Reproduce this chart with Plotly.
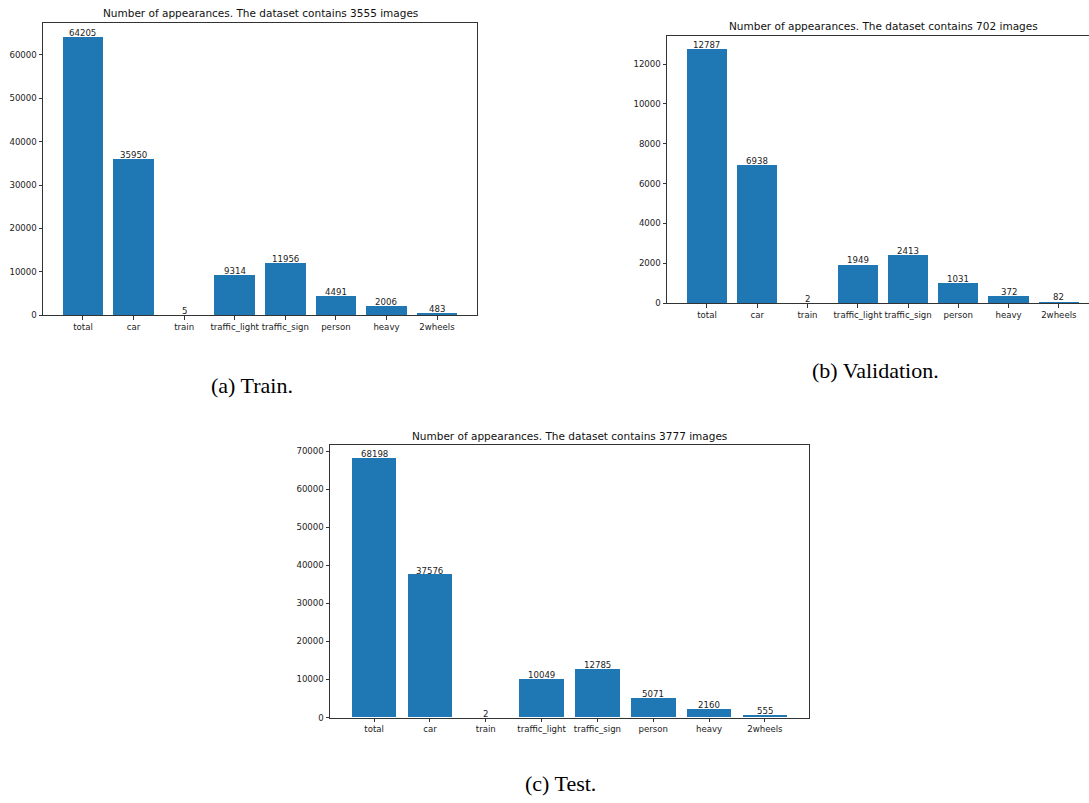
import plotly.graph_objects as go

categories = ["total", "car", "train", "traffic_light", "traffic_sign", "person", "heavy", "2wheels"]
train_counts = [64205, 35950, 5, 9314, 11956, 4491, 2006, 483]
val_counts = [12787, 6938, 2, 1949, 2413, 1031, 372, 82]
test_counts = [68198, 37576, 2, 10049, 12785, 5071, 2160, 555]
train_images = 3555
val_images = 702
test_images = 3777
train_yticks = [0, 10000, 20000, 30000, 40000, 50000, 60000]
val_yticks = [0, 2000, 4000, 6000, 8000, 10000, 12000]
test_yticks = [0, 10000, 20000, 30000, 40000, 50000, 60000, 70000]
captions = ["(a) Train.", "(b) Validation.", "(c) Test."]

W, H = 1089, 803
BLUE = "#1f77b4"
TICKFONT = dict(family="DejaVu Sans", size=8.6, color="#222222")

def px(x):
    return x / W

def py(y):
    return 1 - y / H

panels = [
    dict(counts=train_counts, images=train_images, yticks=train_yticks,
         xd=(43, 477), yd=(23, 317), xr=[-0.79, 7.79], tx=260, ty=13, mirror_y=True),
    dict(counts=val_counts, images=val_images, yticks=val_yticks,
         xd=(667, 1089), yd=(36, 305), xr=[-0.795, 7.60], tx=883, ty=26, mirror_y=False),
    dict(counts=test_counts, images=test_images, yticks=test_yticks,
         xd=(330, 809), yd=(448, 722), xr=[-0.79, 7.79], tx=569.5, ty=439, mirror_y=True),
]

fig = go.Figure()
annotations = []
for i, p in enumerate(panels):
    n = "" if i == 0 else str(i + 1)
    xa, ya = "x" + n, "y" + n
    fig.add_trace(go.Bar(x=categories, y=p["counts"], width=0.8,
                         marker=dict(color=BLUE, line=dict(width=0)),
                         xaxis=xa, yaxis=ya, showlegend=False, hoverinfo="x+y"))
    fig.layout["xaxis" + n] = dict(
        domain=[px(p["xd"][0]), px(p["xd"][1])], anchor=ya, type="category",
        range=p["xr"], showline=True, linecolor="#333333", linewidth=1, mirror=True,
        ticks="outside", ticklen=3.5, tickwidth=0.8, tickcolor="#333333", tickangle=0,
        tickfont=TICKFONT, showgrid=False, zeroline=False, fixedrange=True)
    fig.layout["yaxis" + n] = dict(
        domain=[py(p["yd"][1]), py(p["yd"][0])], anchor=xa,
        range=[0, max(p["counts"]) * 1.05], tickvals=p["yticks"],
        ticktext=[str(v) for v in p["yticks"]],
        showline=True, linecolor="#333333", linewidth=1, mirror=p["mirror_y"],
        ticks="outside", ticklen=3.5, tickwidth=0.8, tickcolor="#333333",
        tickfont=TICKFONT, showgrid=False, zeroline=False, fixedrange=True)
    for c, v in zip(categories, p["counts"]):
        annotations.append(dict(x=c, y=v, xref=xa, yref=ya, text=str(v),
                                showarrow=False, yanchor="bottom", xanchor="center",
                                yshift=-3, font=dict(family="DejaVu Sans", size=8.6, color="#222222")))
    annotations.append(dict(x=px(p["tx"]), y=py(p["ty"]), xref="paper", yref="paper",
                            text=f"Number of appearances. The dataset contains {p['images']} images",
                            showarrow=False, xanchor="center", yanchor="middle",
                            font=dict(family="DejaVu Sans", size=10.5, color="#111111")))

cap_pos = [(252, 388), (875, 373), (560, 788)]
for cap, (cx, cy) in zip(captions, cap_pos):
    annotations.append(dict(x=px(cx), y=py(cy), xref="paper", yref="paper", text=cap,
                            showarrow=False, xanchor="center", yanchor="middle",
                            font=dict(family="Liberation Serif", size=22, color="#000000")))

fig.update_layout(width=W, height=H, margin=dict(l=0, r=0, t=0, b=0),
                  paper_bgcolor="white", plot_bgcolor="white",
                  annotations=annotations, bargap=0)
fig.write_html("out.html", config={"displayModeBar": False},
               post_script="document.body.style.margin='0';document.body.style.overflow='hidden';")
